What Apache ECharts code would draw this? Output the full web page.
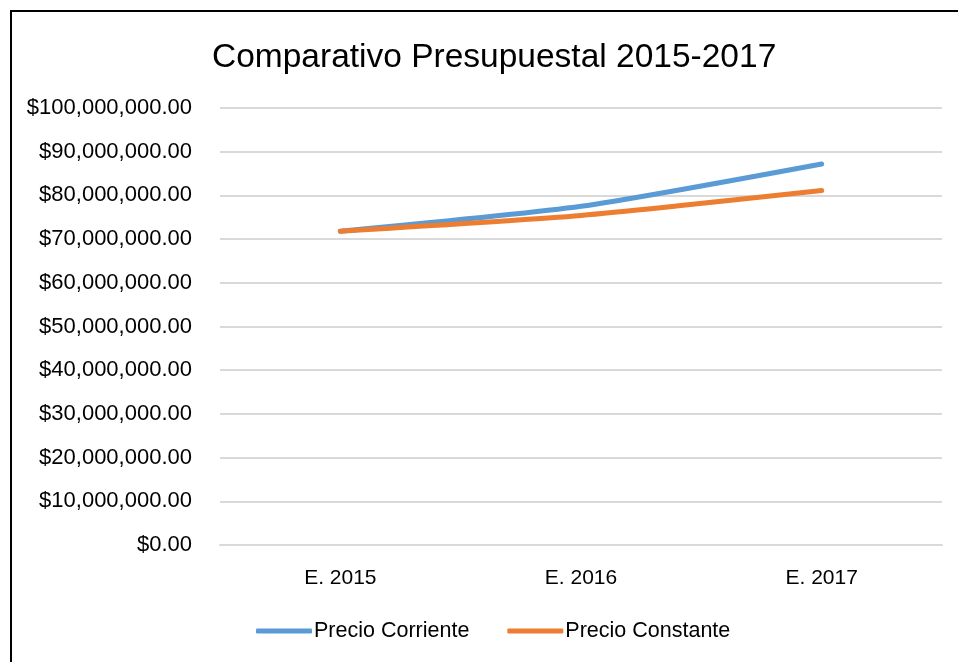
<!DOCTYPE html>
<html>
<head>
<meta charset="utf-8">
<script src="https://cdn.jsdelivr.net/npm/echarts@6/dist/echarts.min.js"></script>
<style>
  html, body { margin: 0; padding: 0; background: #fff; }
  #frame { position: absolute; left: 10px; top: 10px; width: 1000px; height: 700px; border: 2px solid #000; box-sizing: border-box; }
  #comparativo { position: absolute; left: 0; top: 0; width: 958px; height: 662px; }
</style>
</head>
<body>
<div id="frame"></div>
<div id="comparativo"></div>
<script>
  // datos
  var categorias = ['E. 2015', 'E. 2016', 'E. 2017']
  var precioCorriente = [71800000, 77500000, 87200000]
  var precioConstante = [71800000, 75400000, 81100000]
  var nombres = ['Precio Corriente', 'Precio Constante']

  var fuente = 'Liberation Sans'

  function dinero(v) {
    var s = v.toFixed(2).split('.')
    return '$' + s[0].replace(/\B(?=(\d{3})+(?!\d))/g, ',') + '.' + s[1]
  }

  var options = {
    animation: false,
    title: {
      text: 'Comparativo Presupuestal 2015-2017',
      left: 207,
      top: 36,
      textStyle: { fontFamily: fuente, fontSize: 33.5, fontWeight: 'normal', color: '#000' }
    },
    legend: {
      data: nombres,
      bottom: 15,
      left: 251,
      icon: 'roundRect',
      itemWidth: 56,
      itemHeight: 5,
      itemGap: 38,
      textStyle: { fontFamily: fuente, fontSize: 21.5, color: '#000', padding: [0, 0, 0, -3] }
    },
    grid: { top: 108, left: 220, right: 16, bottom: 117, containLabel: false },
    xAxis: [{
      type: 'category',
      boundaryGap: true,
      data: categorias,
      axisLine: { show: true, lineStyle: { color: '#d9d9d9', width: 2 } },
      axisTick: { show: false },
      axisLabel: { fontFamily: fuente, fontSize: 21, color: '#000', margin: 23 }
    }],
    yAxis: [{
      type: 'value',
      min: 0,
      max: 100000000,
      interval: 10000000,
      axisLine: { show: false },
      axisTick: { show: false },
      splitLine: { lineStyle: { color: '#d9d9d9', width: 2 } },
      axisLabel: { fontFamily: fuente, fontSize: 22, color: '#000', margin: 28, formatter: dinero }
    }],
    series: [
      {
        name: nombres[0],
        type: 'line',
        symbol: 'none',
        smooth: 0.2,
        color: '#5b9bd5',
        lineStyle: { width: 5, cap: 'round' },
        data: precioCorriente
      },
      {
        name: nombres[1],
        type: 'line',
        symbol: 'none',
        smooth: 0.2,
        color: '#ed7d31',
        lineStyle: { width: 5, cap: 'round' },
        data: precioConstante
      }
    ]
  }

  var mychart = echarts.init(document.getElementById('comparativo'))
  mychart.setOption(options)
</script>
</body>
</html>
